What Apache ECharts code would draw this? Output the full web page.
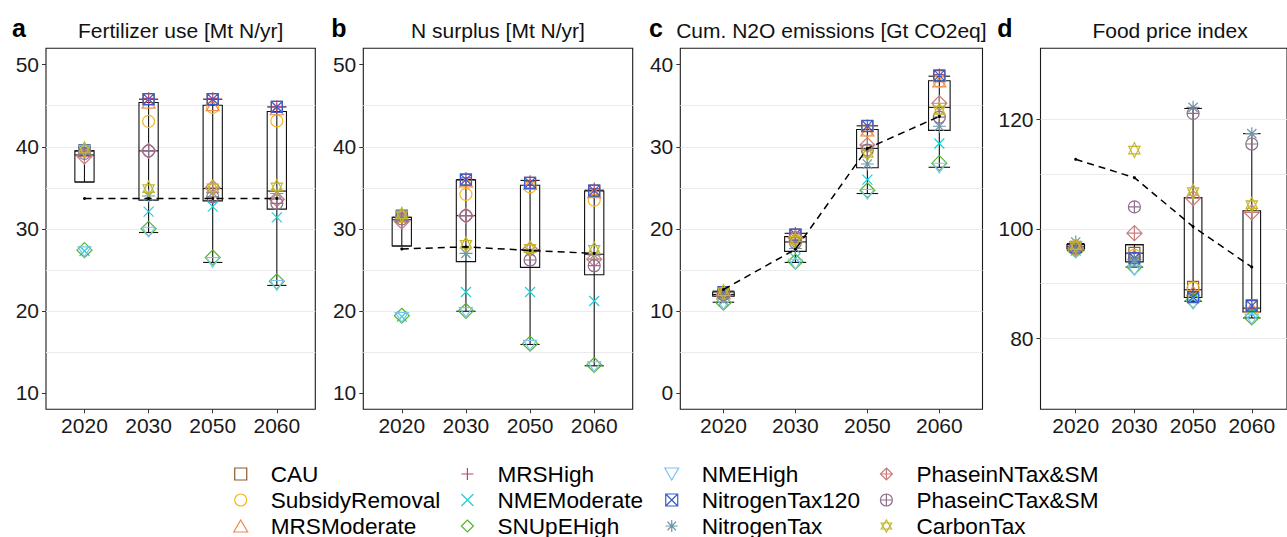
<!DOCTYPE html>
<html>
<head>
<meta charset="utf-8">
<script src="https://cdn.jsdelivr.net/npm/echarts@6/dist/echarts.min.js"></script>
<style>
html,body{margin:0;padding:0;background:#fff;}
#chart{width:1287px;height:537px;}
</style>
</head>
<body>
<div id="chart"></div>
<script>
// ---------------- DATA ----------------
const years = ['2020', '2030', '2050', '2060'];
const scenarios = ['CAU', 'SubsidyRemoval', 'MRSModerate', 'MRSHigh', 'NMEModerate', 'SNUpEHigh',
  'NMEHigh', 'NitrogenTax120', 'NitrogenTax', 'PhaseinNTax&SM', 'PhaseinCTax&SM', 'CarbonTax'];

// rows follow `scenarios`, columns follow `years`
const fertilizerUse = [
  [39.5, 45.8, 45.8, 44.85],
  [39.5, 43.1, 44.8, 43.15],
  [39.5, 45.3, 45.0, 44.5],
  [39.5, 45.9, 45.9, 44.9],
  [27.3, 32.1, 32.7, 31.4],
  [27.4, 30.0, 26.5, 23.6],
  [27.2, 29.6, 25.9, 23.1],
  [39.6, 45.8, 45.8, 44.85],
  [39.6, 34.0, 34.4, 34.3],
  [38.8, 39.5, 35.0, 33.6],
  [39.2, 39.5, 33.9, 33.1],
  [39.7, 34.9, 35.0, 35.1]
];
const nSurplus = [
  [31.5, 36.0, 35.6, 34.65],
  [31.5, 34.2, 35.1, 33.5],
  [31.5, 35.7, 35.4, 34.4],
  [31.6, 36.2, 35.8, 34.9],
  [19.3, 22.3, 22.3, 21.2],
  [19.4, 20.0, 16.0, 13.4],
  [19.2, 19.8, 15.8, 13.2],
  [31.6, 36.0, 35.6, 34.65],
  [31.6, 27.0, 27.2, 26.8],
  [30.9, 31.6, 27.5, 26.3],
  [31.2, 31.6, 26.2, 25.5],
  [31.7, 28.1, 27.6, 27.5]
];
const n2oCum = [
  [12.1, 19.3, 32.5, 38.6],
  [12.1, 18.9, 32.0, 38.0],
  [12.1, 19.1, 31.9, 37.9],
  [12.2, 19.5, 32.6, 38.8],
  [11.2, 16.4, 26.0, 30.4],
  [11.0, 16.0, 24.7, 28.0],
  [10.8, 15.7, 24.2, 27.4],
  [12.3, 19.3, 32.55, 38.7],
  [12.0, 17.6, 27.9, 32.5],
  [11.9, 18.9, 30.2, 35.3],
  [12.0, 18.3, 29.6, 33.6],
  [12.3, 18.6, 29.2, 34.45]
];
const foodPrice = [
  [96.7, 95.6, 89.4, 86.0],
  [96.7, 95.2, 89.2, 85.8],
  [96.6, 95.3, 88.6, 85.6],
  [96.8, 94.8, 88.0, 85.3],
  [96.0, 93.6, 87.3, 84.5],
  [96.1, 93.0, 86.9, 83.8],
  [95.7, 92.4, 86.2, 83.5],
  [96.6, 94.65, 87.5, 85.9],
  [97.6, 94.2, 122.2, 117.4],
  [96.5, 99.2, 105.6, 103.0],
  [96.6, 104.0, 121.1, 115.5],
  [96.9, 114.4, 106.8, 104.4]
];

// box stats per year: [whisker low, Q1, median, Q3, whisker high]
const fertilizerBox = [[35.7, 35.7, 39.0, 39.5, 39.5], [29.55, 33.5, 39.5, 45.4, 45.8], [25.9, 33.4, 34.9, 45.05, 45.8], [23.1, 32.4, 34.6, 44.3, 44.85]];
const nSurplusBox = [[27.9, 27.9, 31.1, 31.4, 31.4], [19.95, 26.0, 31.6, 35.95, 36.0], [15.9, 25.3, 27.45, 35.3, 35.9], [13.3, 24.4, 26.9, 34.6, 34.7]];
const n2oBox = [[11.05, 11.8, 12.0, 12.3, 12.4], [15.9, 17.25, 18.4, 19.05, 19.45], [24.3, 27.45, 29.8, 32.1, 32.55], [27.5, 32.0, 34.8, 38.05, 38.6]];
const foodBox = [[96.0, 96.3, 96.7, 97.1, 97.3], [93.0, 93.95, 95.55, 97.1, 97.1], [86.75, 87.45, 88.85, 105.7, 122.0], [83.7, 84.8, 85.5, 103.3, 117.4]];

// dashed reference line
const fertilizerRef = [33.7, 33.7, 33.7, 33.7];
const nSurplusRef = [27.55, 27.8, 27.35, 27.0];
const n2oRef = [12.6, 17.5, 29.8, 33.7];
const foodRef = [112.7, 109.35, 100.4, 93.0];

// axis tick labels and grid lines
const yTicksAB = [10, 20, 30, 40, 50];
const yGridAB = [10, 15, 20, 25, 30, 35, 40, 45, 50];
const yTicksC = [0, 10, 20, 30, 40];
const yGridC = [0, 5, 10, 15, 20, 25, 30, 35, 40];
const yTicksD = [80, 100, 120];
const yGridD = [70, 80, 90, 100, 110, 120, 130];

// ---------------- STYLE ----------------
const FONT = 'Liberation Sans, Arial, Helvetica, sans-serif';
const colors = ['#8B5A2B', '#F5B51C', '#F28A4E', '#B5477D', '#1FD0D8', '#56B52A',
  '#7CC4F0', '#3A5BC8', '#6C97AB', '#C97E7E', '#8E6E8C', '#C4B72B'];
const symbols = [
  'path://M0,0L10,0L10,10L0,10Z',
  'path://M0,5A5,5 0 1 1 10,5A5,5 0 1 1 0,5Z',
  'path://M5,0L10,8.66L0,8.66Z',
  'path://M5,0L5,10M0,5L10,5',
  'path://M0,0L10,10M10,0L0,10',
  'path://M5,0L10,5L5,10L0,5Z',
  'path://M0,0L10,0L5,8.66Z',
  'path://M0,0L10,0L10,10L0,10ZM0,0L10,10M10,0L0,10',
  'path://M5,0L5,10M0,5L10,5M1.46,1.46L8.54,8.54M8.54,1.46L1.46,8.54',
  'path://M5,0L10,5L5,10L0,5ZM5,0L5,10M0,5L10,5',
  'path://M0,5A5,5 0 1 1 10,5A5,5 0 1 1 0,5ZM5,0L5,10M0,5L10,5',
  'path://M5,0L10,8.66L0,8.66ZM0,2.89L10,2.89L5,11.55Z'
];
const sizes = [[11, 11], [12, 12], [13, 11.3], [12, 12], [10, 10], [15, 15], [13, 11.3],
  [11, 11], [13, 13], [15, 15], [12, 12], [13, 15]];

const panels = [
  { letter: 'a', title: 'Fertilizer use [Mt N/yr]', left: 46, width: 269.3, min: 8, max: 52, ticks: yTicksAB, grid: yGridAB, split: 9, vals: fertilizerUse, box: fertilizerBox, ref: fertilizerRef, letterX: 19 },
  { letter: 'b', title: 'N surplus [Mt N/yr]', left: 363.3, width: 269.4, min: 8, max: 52, ticks: yTicksAB, grid: yGridAB, split: 9, vals: nSurplus, box: nSurplusBox, ref: nSurplusRef, letterX: 339 },
  { letter: 'c', title: 'Cum. N2O emissions [Gt CO2eq]', left: 680.3, width: 302.2, min: -2, max: 42, ticks: yTicksC, grid: yGridC, split: 9, vals: n2oCum, box: n2oBox, ref: n2oRef, letterX: 656 },
  { letter: 'd', title: 'Food price index', left: 1040.5, width: 259, min: 67, max: 133, ticks: yTicksD, grid: yGridD, split: 7, vals: foodPrice, box: foodBox, ref: foodRef, letterX: 1005 }
];
const TOP = 48.3, HEIGHT = 361;

// ---------------- BUILD ----------------
const grids = [], xAxes = [], yAxes = [], series = [], graphics = [];

function renderBox(params, api) {
  const x = api.value(0);
  const lo = api.coord([x, api.value(1)]);
  const q1 = api.coord([x, api.value(2)]);
  const md = api.coord([x, api.value(3)]);
  const q3 = api.coord([x, api.value(4)]);
  const hi = api.coord([x, api.value(5)]);
  const half = api.size([0.3, 0])[0] / 2;
  const cx = lo[0];
  const st = { stroke: '#111', lineWidth: 1.1, fill: 'none' };
  return {
    type: 'group', children: [
      { type: 'line', shape: { x1: cx, y1: lo[1], x2: cx, y2: hi[1] }, style: st },
      { type: 'line', shape: { x1: cx - half, y1: lo[1], x2: cx + half, y2: lo[1] }, style: st },
      { type: 'line', shape: { x1: cx - half, y1: hi[1], x2: cx + half, y2: hi[1] }, style: st },
      { type: 'rect', shape: { x: cx - half, y: q3[1], width: 2 * half, height: q1[1] - q3[1] }, style: st },
      { type: 'line', shape: { x1: cx - half, y1: md[1], x2: cx + half, y2: md[1] }, style: st }
    ]
  };
}

panels.forEach((p, i) => {
  grids.push({ left: p.left, top: TOP, width: p.width, height: HEIGHT, show: true,
    borderColor: '#1a1a1a', borderWidth: 1.1, backgroundColor: 'transparent', containLabel: false });
  xAxes.push({
    type: 'value', gridIndex: i, min: -0.6, max: 3.6, position: 'bottom',
    axisLine: { show: false, onZero: false }, splitLine: { show: false },
    axisTick: { show: true, inside: false, length: 4, customValues: [0, 1, 2, 3], lineStyle: { color: '#333', width: 1 } },
    axisLabel: { show: true, customValues: [0, 1, 2, 3], formatter: v => years[Math.round(v)] || '',
      fontSize: 21, fontFamily: FONT, color: '#1a1a1a', margin: 6 }
  });
  // visible y axis (labels + ticks)
  yAxes.push({
    type: 'value', gridIndex: i, min: p.min, max: p.max, position: 'left',
    axisLine: { show: false, onZero: false }, splitLine: { show: false },
    axisTick: { show: true, inside: false, length: 4, customValues: p.ticks, lineStyle: { color: '#333', width: 1 } },
    axisLabel: { show: true, customValues: p.ticks, fontSize: 21, fontFamily: FONT, color: '#1a1a1a', margin: 7 }
  });
  // grid-line y axis
  yAxes.push({
    type: 'value', gridIndex: i, min: p.min, max: p.max, position: 'left', splitNumber: p.split,
    axisLine: { show: false, onZero: false }, axisLabel: { show: false },
    axisTick: { show: false, customValues: p.grid },
    splitLine: { show: true, showMinLine: false, showMaxLine: false, lineStyle: { color: '#EBEBEB', width: 1.2 } }
  });

  series.push({
    type: 'custom', name: 'box' + i, xAxisIndex: i, yAxisIndex: 2 * i, silent: true, z: 2,
    renderItem: renderBox, encode: { x: 0, y: [1, 2, 3, 4, 5] },
    data: p.box.map((b, k) => [k, b[0], b[1], b[2], b[3], b[4]])
  });

  scenarios.forEach((s, j) => {
    series.push({
      type: 'scatter', name: s, xAxisIndex: i, yAxisIndex: 2 * i, z: 3,
      symbol: symbols[j], symbolSize: sizes[j], symbolKeepAspect: true,
      itemStyle: { color: 'rgba(0,0,0,0)', borderColor: colors[j], borderWidth: 1.2, opacity: 1 },
      emphasis: { disabled: true },
      data: p.vals[j].map((v, k) => [k, v])
    });
  });

  series.push({
    type: 'line', name: 'ref' + i, xAxisIndex: i, yAxisIndex: 2 * i, z: 4, silent: true,
    symbol: 'circle', symbolSize: 3, showSymbol: true,
    itemStyle: { color: '#000' },
    lineStyle: { color: '#000', width: 1.5, type: [7, 5] },
    emphasis: { disabled: true },
    data: p.ref.map((v, k) => [k, v])
  });

  graphics.push({ type: 'text', x: p.left + p.width / 2, y: 30,
    style: { text: p.title, fontSize: 21, fontFamily: FONT, fill: '#111', textAlign: 'center', textVerticalAlign: 'middle' } });
  graphics.push({ type: 'text', x: p.letterX, y: 28,
    style: { text: p.letter, fontSize: 25, fontWeight: 'bold', fontFamily: FONT, fill: '#000', textAlign: 'center', textVerticalAlign: 'middle' } });
});

const legendCols = [[0, 1, 2], [3, 4, 5], [6, 7, 8], [9, 10, 11]];
const legendCenters = [241.7, 469.3, 672.7, 888.3];
const legends = legendCols.map((col, c) => ({
  show: true, orient: 'vertical', left: legendCenters[c] - 8.5, top: 462.5, height: 100, width: 220, padding: 0,
  itemWidth: 50, itemHeight: 12, itemGap: 3, selectedMode: false,
  itemStyle: { borderWidth: 1.2 },
  textStyle: { fontSize: 22.6, fontFamily: FONT, color: '#000', lineHeight: 20, padding: [0, 0, 0, 0] },
  data: col.map(j => scenarios[j])
}));

const chart = echarts.init(document.getElementById('chart'), null, { renderer: 'svg' });
chart.setOption({
  animation: false,
  backgroundColor: '#fff',
  grid: grids, xAxis: xAxes, yAxis: yAxes,
  legend: legends,
  graphic: graphics,
  series: series
});
</script>
</body>
</html>
